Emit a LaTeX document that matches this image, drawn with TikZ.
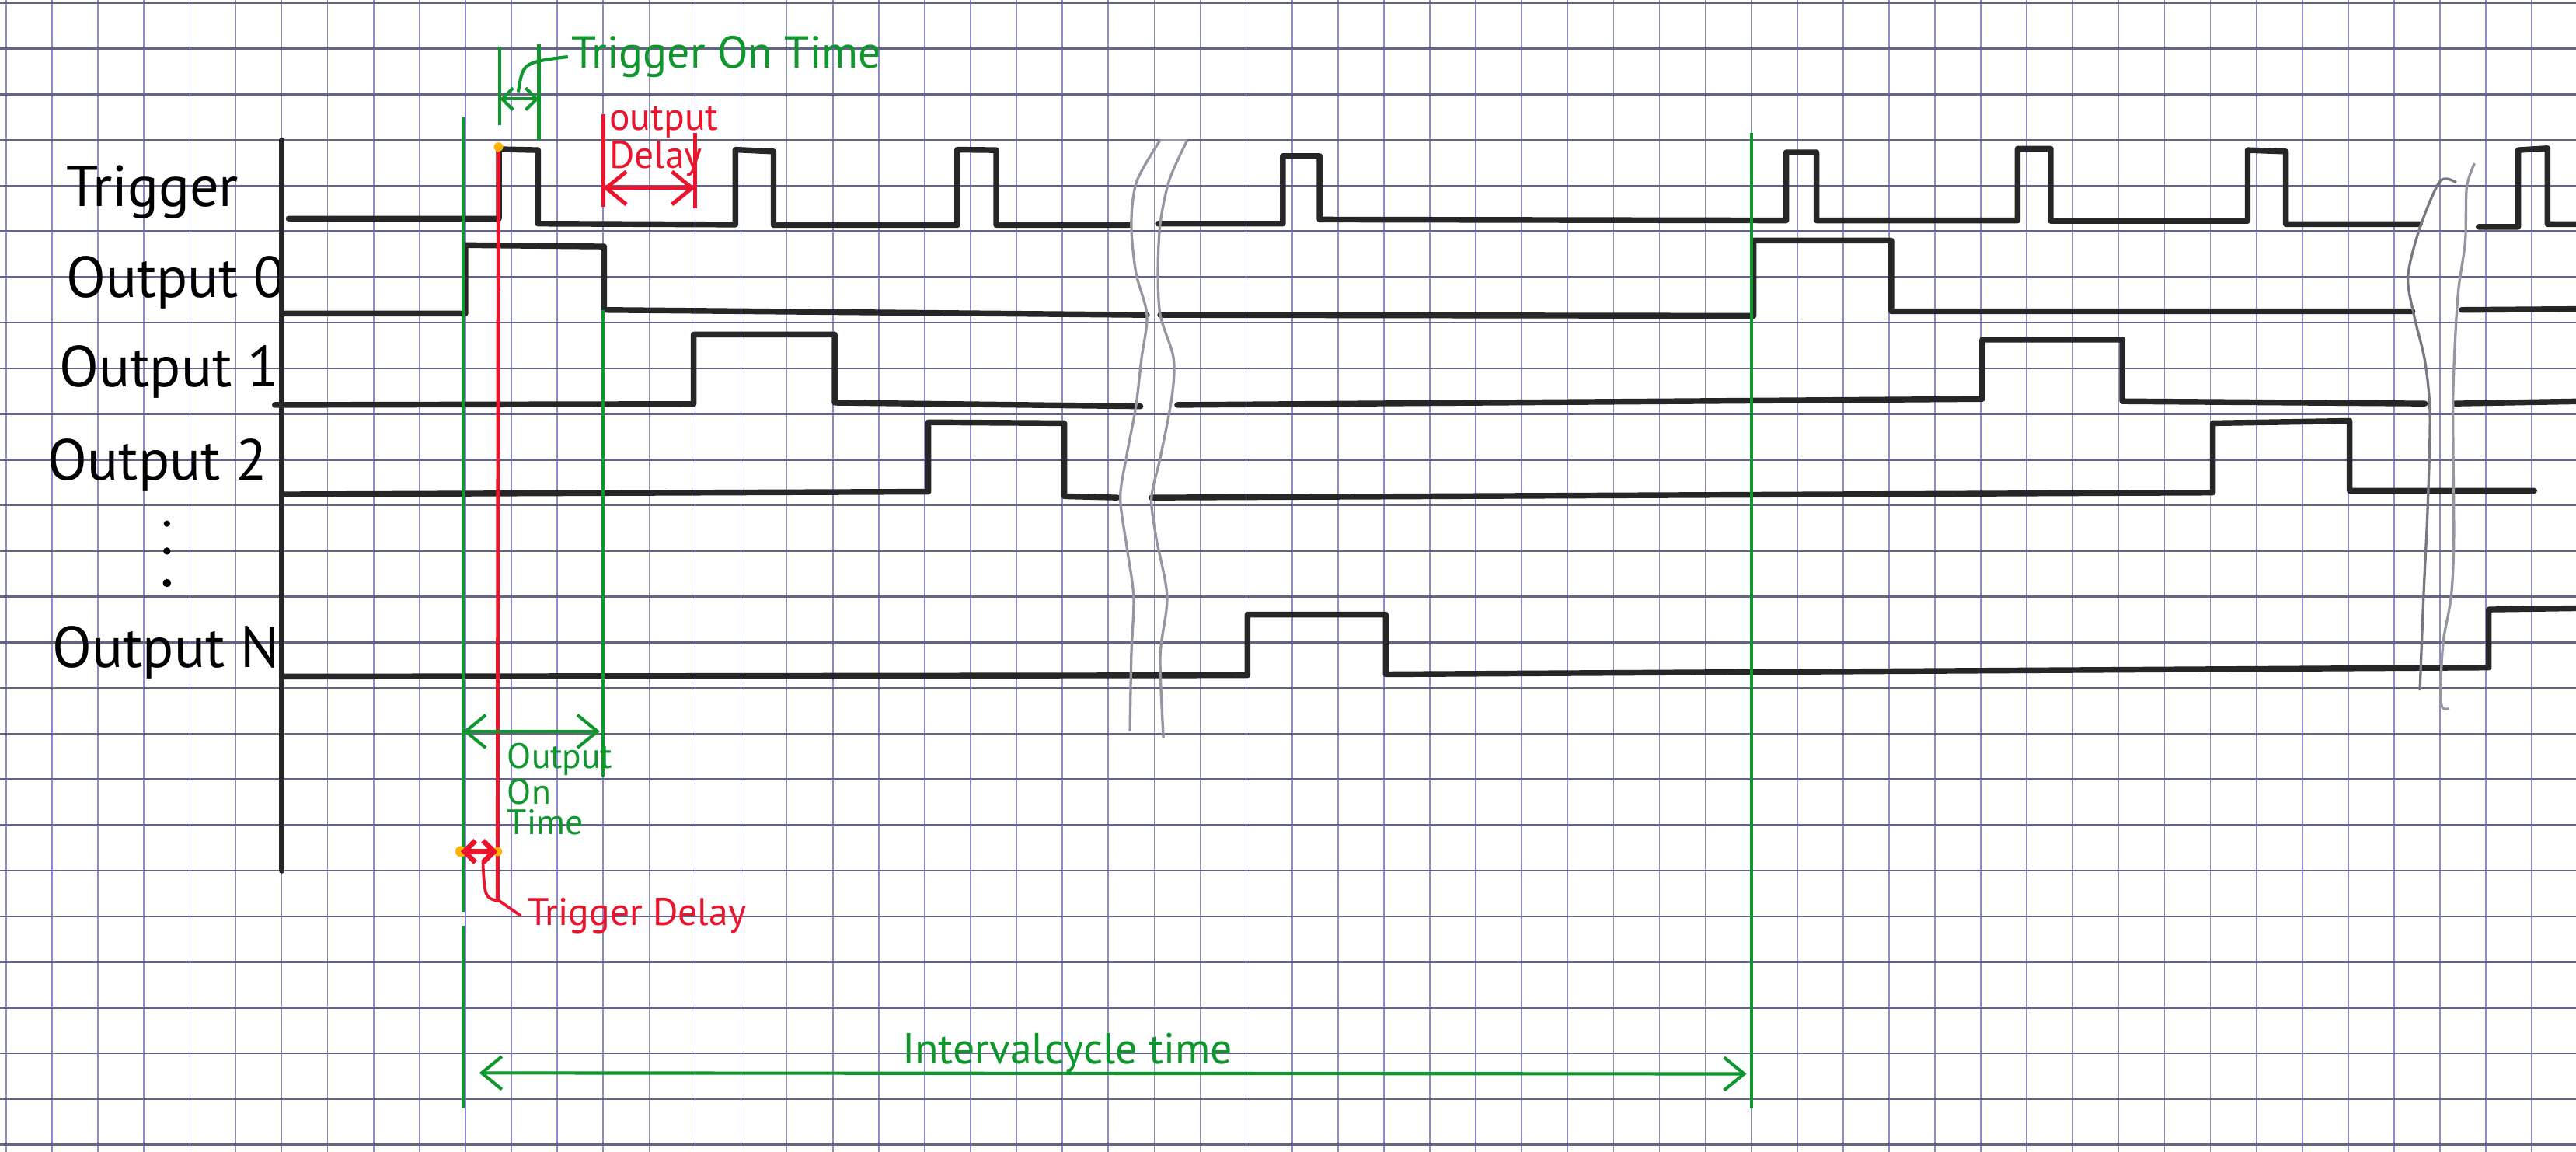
\documentclass[tikz,border=0pt]{standalone}
\usepackage{fontspec}
\setmainfont{PT Sans}
\usetikzlibrary{arrows.meta}
\definecolor{gridv}{RGB}{140,140,205}
\definecolor{gridh}{RGB}{100,100,135}
\definecolor{pengreen}{RGB}{15,150,45}
\definecolor{penred}{RGB}{235,20,45}
\definecolor{hilite}{RGB}{255,180,0}
\definecolor{pencil}{RGB}{150,150,162}

\begin{document}
\begin{tikzpicture}[
    x=0.503cm, y=-0.5cm,
    sig/.style={draw=black!85,line width=1.8pt,line join=round,line cap=round},
    vline/.style={draw=gridv,line width=0.4pt},
    hline/.style={draw=gridh,line width=0.6pt},
    gpen/.style={draw=pengreen,line width=1pt},
    rpen/.style={draw=penred,line width=1.2pt},
    pencilline/.style={draw=pencil,line width=0.8pt},
    dimarr/.style={{Straight Barb[length=2.2mm,width=3.6mm]}-{Straight Barb[length=2.2mm,width=3.6mm]}},
    tinyarr/.style={{Straight Barb[length=1.2mm,width=2.4mm]}-{Straight Barb[length=1.2mm,width=2.4mm]}},
    sigLabel/.style={anchor=base west,inner sep=0pt,font=\fontsize{18}{18}\selectfont},
    gnote/.style={anchor=base west,inner sep=0pt,text=pengreen},
    rnote/.style={anchor=base west,inner sep=0pt,text=penred},
  ]
  \fill[white] (-0.135,-0.068) rectangle (55.96,25.16);
  \useasboundingbox (-0.135,-0.068) rectangle (55.96,25.16);

  % paper
  \foreach \i in {0,...,55} \draw[vline] (\i,-0.068) -- (\i,25.16);
  \foreach \j in {0,...,25} \draw[hline] (-0.135,\j) -- (55.96,\j);

  % signal names
  \node[sigLabel] (trig) at (1.3,4.45) {Trigger};
  \node[sigLabel] (out0) at (1.3,6.45) {Output 0};
  \node[sigLabel] (out1) at (1.15,8.4) {Output 1};
  \node[sigLabel] (out2) at (0.9,10.45) {Output 2};
  \node[sigLabel] (outN) at (1.0,14.55) {Output N};
  \fill (3.5,11.4) circle (0.07) (3.5,12.0) circle (0.08) (3.5,12.7) circle (0.09);

  \draw[sig] (6,3) -- (6,19);

  % trigger
  \draw[sig] (6.15,4.72) -- (10.73,4.72) -- (10.73,3.2) -- (11.58,3.22) -- (11.58,4.83)
    -- (15.88,4.85) -- (15.88,3.21) -- (16.71,3.25) -- (16.71,4.86) -- (20.71,4.86)
    -- (20.71,3.21) -- (21.56,3.22) -- (21.56,4.86) -- (24.45,4.86);
  \draw[sig] (25.08,4.83) -- (27.8,4.83) -- (27.8,3.35) -- (28.6,3.35) -- (28.6,4.74)
    -- (38.76,4.76) -- (38.76,3.27) -- (39.42,3.27) -- (39.42,4.76) -- (43.8,4.76)
    -- (43.8,3.19) -- (44.52,3.19) -- (44.52,4.77) -- (48.81,4.77) -- (48.81,3.22)
    -- (49.64,3.25) -- (49.64,4.84) -- (52.56,4.84);
  \draw[sig] (53.84,4.9) -- (54.7,4.9) -- (54.7,3.22) -- (55.34,3.18) -- (55.34,4.84) -- (56.1,4.84);

  % output 0
  \draw[sig] (6.05,6.8) -- (10,6.8) -- (10,5.3) -- (13.02,5.33) -- (13.02,6.72) -- (24.84,6.83);
  \draw[sig] (25.13,6.83) -- (38.05,6.85) -- (38.05,5.2) -- (41.05,5.2) -- (41.05,6.75) -- (52.4,6.75);
  \draw[sig] (53.47,6.72) -- (56.1,6.7);

  % output 1
  \draw[sig] (5.85,8.8) -- (14.97,8.78) -- (14.97,7.26) -- (18.04,7.26) -- (18.04,8.75) -- (24.7,8.83);
  \draw[sig] (25.5,8.8) -- (43.03,8.67) -- (43.03,7.37) -- (46.08,7.37) -- (46.08,8.72) -- (52.67,8.77);
  \draw[sig] (53.32,8.77) -- (56.1,8.72);

  % output 2
  \draw[sig] (6,10.76) -- (20.08,10.7) -- (20.08,9.18) -- (23.04,9.2) -- (23.04,10.8) -- (24.2,10.83);
  \draw[sig] (24.94,10.83) -- (48.05,10.72) -- (48.05,9.2) -- (51.03,9.15) -- (51.03,10.68) -- (55.05,10.68);

  % output N
  \draw[sig] (6,14.75) -- (27.03,14.72) -- (27.03,13.39) -- (30.04,13.39) -- (30.04,14.7)
    -- (54.06,14.55) -- (54.06,13.28) -- (56.1,13.25);

  % breaks
  \draw[pencilline] plot[smooth] coordinates {(25.13,3.0) (24.62,3.9) (24.5,4.83) (24.6,5.9)
    (24.84,6.83) (24.72,7.8) (24.6,8.83) (24.4,9.9) (24.26,10.83) (24.4,11.9) (24.55,13.0)
    (24.5,14.3) (24.47,15.95)};
  \draw[pencilline] plot[smooth] coordinates {(25.72,3.0) (25.33,3.87) (25.13,4.83) (25.08,5.87)
    (25.13,6.83) (25.42,7.78) (25.38,8.65) (25.13,9.96) (24.94,10.83) (25.04,11.7) (25.28,13.0)
    (25.13,14.3) (25.2,16.1)};
  \draw[pencilline] (25.13,3.0) -- (25.72,3.0);
  \draw[pencilline,draw=pencil!80!black] plot[smooth] coordinates {(53.35,3.93) (53.0,3.9) (52.56,4.92)
    (52.3,5.99) (52.44,6.87) (52.67,7.84) (52.78,9.0) (52.73,11.06) (52.64,13.0) (52.56,15.05)};
  \draw[pencilline] plot[smooth] coordinates {(53.75,3.51) (53.58,4.04) (53.55,5.2) (53.41,6.19)
    (53.35,6.97) (53.3,8.04) (53.28,9.01) (53.3,11.74) (53.24,13.0) (53.07,13.98) (53.01,15.05)
    (53.05,15.43) (53.2,15.45)};

  % timing marks
  \draw[gpen] (9.95,2.5) -- (9.95,19.9);
  \draw[gpen] (9.95,20.2) -- (9.95,24.2);
  \draw[gpen] (13.0,6.72) -- (13.0,16.93);
  \draw[gpen] (38.0,2.85) -- (38.0,24.2);
  \draw[rpen] (10.72,3.2) -- (10.7,19.67);
  \fill[hilite] (10.72,3.15) circle (0.1);

  \draw[gpen] (10.75,0.95) -- (10.75,2.68);
  \draw[gpen] (11.6,0.9) -- (11.6,3.0);
  \coordinate (ton-a) at (10.75,2.1);
  \coordinate (ton-b) at (11.6,2.1);
  \draw[gpen,tinyarr] (ton-a) -- (ton-b);
  \node[gnote,font=\fontsize{14}{14}\selectfont] (tonlbl) at (12.3,1.42) {Trigger On Time};
  \draw[gpen] (11.15,1.95) .. controls (11.25,1.3) .. ([xshift=-1pt]tonlbl.west);

  \draw[rpen] (13.0,2.43) -- (13.0,4.46);
  \draw[rpen] (15.0,2.85) -- (15.0,4.5);
  \coordinate (od-a) at (13.0,4.05);
  \coordinate (od-b) at (15.0,4.05);
  \draw[rpen,dimarr] (od-a) -- (od-b);
  \node[rnote,align=left,font=\fontsize{12}{10}\selectfont] (odlbl) at (13.12,3.62) {output\\Delay};

  \coordinate (oot-a) at (9.95,15.95);
  \coordinate (oot-b) at (12.93,15.95);
  \draw[gpen,dimarr] (oot-a) -- (oot-b);
  \node[gnote,align=left,anchor=north west,font=\fontsize{11}{9.5}\selectfont] (ootlbl) at (10.9,16.2) {Output\\On\\Time};

  \coordinate (td-a) at (9.9,18.58);
  \coordinate (td-b) at (10.7,18.58);
  \fill[hilite] (td-a) circle (0.12) (td-b) circle (0.1);
  \draw[rpen,line width=1.6pt,tinyarr] (td-a) -- (td-b);
  \node[rnote,font=\fontsize{12}{12}\selectfont] (tdlbl) at (11.35,20.2) {Trigger Delay};
  \draw[rpen,line width=0.9pt] (10.38,18.8) .. controls (10.42,19.6) .. (10.75,19.67) -- ([xshift=-2pt]tdlbl.west);

  \coordinate (ict-a) at (10.3,23.43);
  \coordinate (ict-b) at (37.9,23.45);
  \draw[gpen,dimarr] (ict-a) -- (ict-b);
  \node[gnote,font=\fontsize{13.5}{13.5}\selectfont] (ictlbl) at (19.5,23.22) {Intervalcycle time};
\end{tikzpicture}
\end{document}
